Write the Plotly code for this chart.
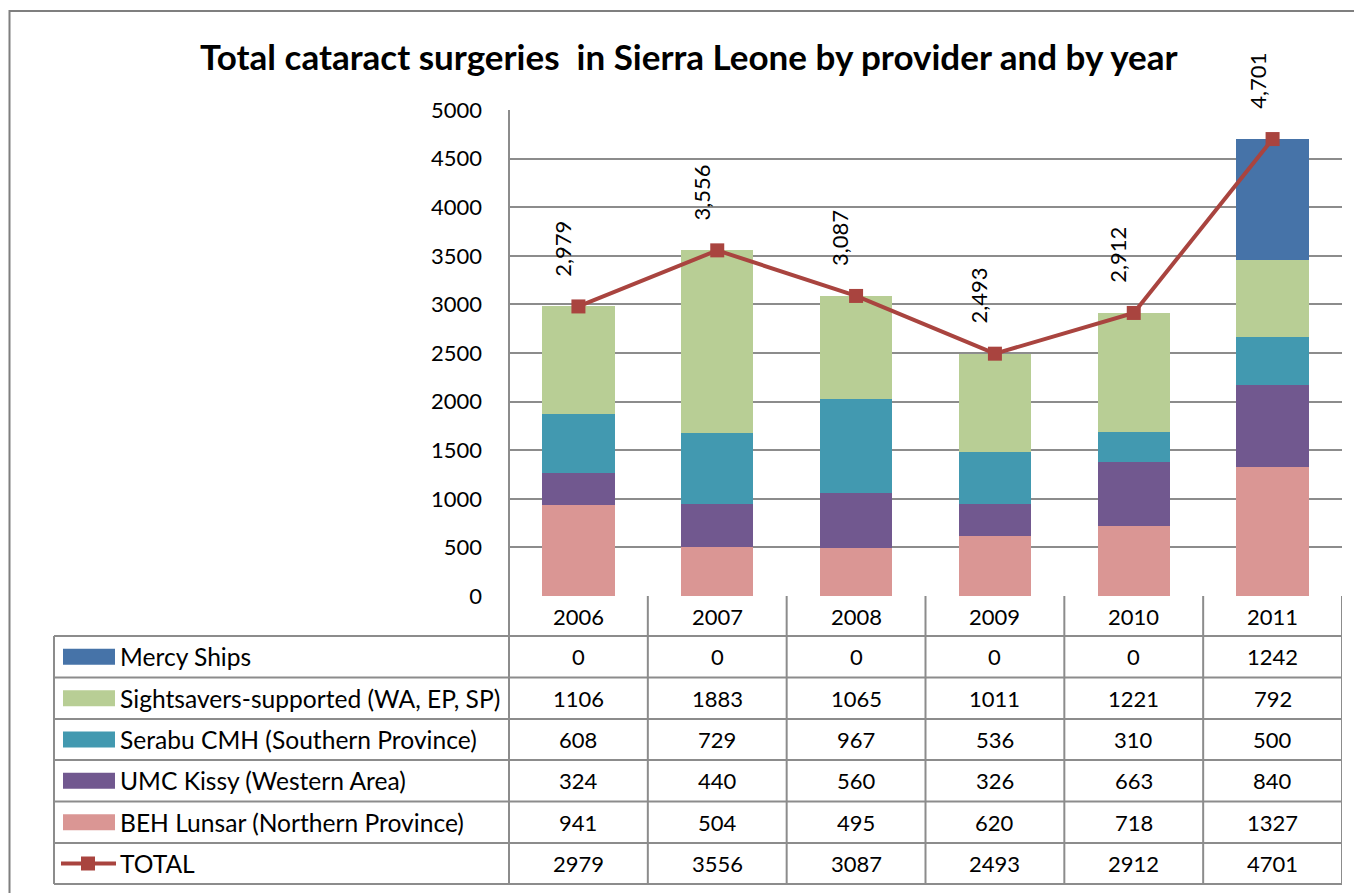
import plotly.graph_objects as go

# ---- data ----
years = [2006, 2007, 2008, 2009, 2010, 2011]
mercy_ships = [0, 0, 0, 0, 0, 1242]
sightsavers = [1106, 1883, 1065, 1011, 1221, 792]
serabu_cmh = [608, 729, 967, 536, 310, 500]
umc_kissy = [324, 440, 560, 326, 663, 840]
beh_lunsar = [941, 504, 495, 620, 718, 1327]
total = [2979, 3556, 3087, 2493, 2912, 4701]

series_names = ['Mercy Ships', 'Sightsavers-supported (WA, EP, SP)',
                'Serabu CMH (Southern Province)', 'UMC Kissy (Western Area)',
                'BEH Lunsar (Northern Province)']
series_values = [mercy_ships, sightsavers, serabu_cmh, umc_kissy, beh_lunsar]
series_colors = ['#4673A8', '#B8CE95', '#4299B0', '#71588F', '#DA9694']
line_color = '#A9443F'
grid_color = '#8C8C8C'
FONT = 'Lato'

# ---- geometry (screen pixels; page body has an 8px margin) ----
OFF = 8
W, H = 1362 - OFF, 893 - OFF
L, R, T, B = 509, 1342, 110, 596


def px_x(px):
    return (px - L) / (R - L)


def px_y(py):
    return (B - py) / (B - T)


fig = go.Figure()

# stacked bars, bottom to top
for name, vals, col in reversed(list(zip(series_names, series_values, series_colors))):
    fig.add_trace(go.Bar(x=years, y=vals, name=name, marker_color=col,
                         marker_line_width=0, showlegend=False))

fig.add_trace(go.Scatter(x=years, y=total, name='TOTAL', mode='lines+markers',
                         line=dict(color=line_color, width=4),
                         marker=dict(symbol='square', size=14, color=line_color),
                         showlegend=False))

shapes = []
annotations = []

# data labels for total
for yr, v in zip(years, total):
    annotations.append(dict(x=yr, y=v, xref='x', yref='y', text=f'{v:,}',
                            textangle=-90, showarrow=False, yanchor='bottom',
                            xanchor='center', yshift=28, xshift=-16,
                            font=dict(family=FONT, size=22, color='black')))

# table rows
row_bounds = [596, 636, 677.5, 719, 760, 801.5, 843, 884]
line_style = dict(color=grid_color, width=2)
x_lo, x_hi = years[0] - 0.5, years[-1] + 0.5

# horizontal lines in data part
for yb in row_bounds[1:]:
    shapes.append(dict(type='line', xref='x', yref='paper', x0=x_lo, x1=x_hi,
                       y0=px_y(yb), y1=px_y(yb), line=line_style))
# horizontal lines in legend column
for yb in row_bounds[1:]:
    shapes.append(dict(type='line', xref='paper', yref='paper', x0=px_x(54), x1=px_x(509),
                       y0=px_y(yb), y1=px_y(yb), line=line_style))
# vertical lines
for k in range(len(years) + 1):
    xv = x_lo + k
    shapes.append(dict(type='line', xref='x', yref='paper', x0=xv, x1=xv,
                       y0=px_y(596), y1=px_y(884), line=line_style))
shapes.append(dict(type='line', xref='paper', yref='paper', x0=px_x(509), x1=px_x(509),
                   y0=1, y1=px_y(884), line=line_style))
shapes.append(dict(type='line', xref='paper', yref='paper', x0=px_x(54), x1=px_x(54),
                   y0=px_y(636), y1=px_y(884), line=line_style))

# header row: years
hc = (row_bounds[0] + row_bounds[1]) / 2
for yr in years:
    annotations.append(dict(x=yr, y=px_y(hc), xref='x', yref='paper', text=str(yr),
                            xanchor='center', yanchor='middle',
                            showarrow=False, font=dict(family=FONT, size=22, color='black')))

# data rows
all_rows = list(zip(series_names, series_values, series_colors)) + [('TOTAL', total, None)]
for r, (name, vals, col) in enumerate(all_rows):
    yc = (row_bounds[r + 1] + row_bounds[r + 2]) / 2
    for yr, v in zip(years, vals):
        annotations.append(dict(x=yr, y=px_y(yc), xref='x', yref='paper', text=str(v),
                                xanchor='center', yanchor='middle',
                                showarrow=False, font=dict(family=FONT, size=22, color='black')))
    annotations.append(dict(x=px_x(118), y=px_y(yc), xref='paper', yref='paper', text=name,
                            xanchor='left', yanchor='middle', showarrow=False,
                            font=dict(family=FONT, size=24.6, color='black')))
    if col is not None:
        shapes.append(dict(type='rect', xref='paper', yref='paper',
                           x0=px_x(63), x1=px_x(115), y0=px_y(yc - 8), y1=px_y(yc + 8),
                           fillcolor=col, line_width=0))
    else:
        shapes.append(dict(type='line', xref='paper', yref='paper',
                           x0=px_x(61), x1=px_x(116), y0=px_y(yc), y1=px_y(yc),
                           line=dict(color=line_color, width=4)))
        shapes.append(dict(type='rect', xref='paper', yref='paper',
                           x0=px_x(81), x1=px_x(95), y0=px_y(yc - 7), y1=px_y(yc + 7),
                           fillcolor=line_color, line_width=0))

# outer frame
shapes.append(dict(type='rect', xref='paper', yref='paper',
                   x0=px_x(OFF + 1.5), x1=px_x(1400), y0=px_y(11), y1=px_y(920),
                   line=dict(color='#7F7F7F', width=2), fillcolor='rgba(0,0,0,0)', layer='below'))

# title
annotations.append(dict(x=px_x(689), y=px_y(56), xref='paper', yref='paper',
                        xanchor='center', yanchor='middle',
                        text='<b>Total cataract surgeries \u00a0in Sierra Leone by provider and by year</b>',
                        showarrow=False, font=dict(family=FONT, size=35, color='black')))

fig.update_layout(
    width=W, height=H,
    margin=dict(l=L - OFF, r=W - (R - OFF), t=T - OFF, b=H - (B - OFF), autoexpand=False),
    barmode='stack', bargap=0.48,
    paper_bgcolor='white', plot_bgcolor='white',
    showlegend=False,
    shapes=shapes, annotations=annotations,
    xaxis=dict(range=[x_lo, x_hi], showticklabels=False, ticks='',
               showgrid=False, zeroline=False, showline=False),
    yaxis=dict(range=[0, 5000], dtick=500, showgrid=True, gridcolor=grid_color, gridwidth=2,
               zeroline=False, showline=False, ticks='',
               tickfont=dict(family=FONT, size=22, color='black'),
               ticklabelstandoff=26),
)

fig.write_html('out.html')
